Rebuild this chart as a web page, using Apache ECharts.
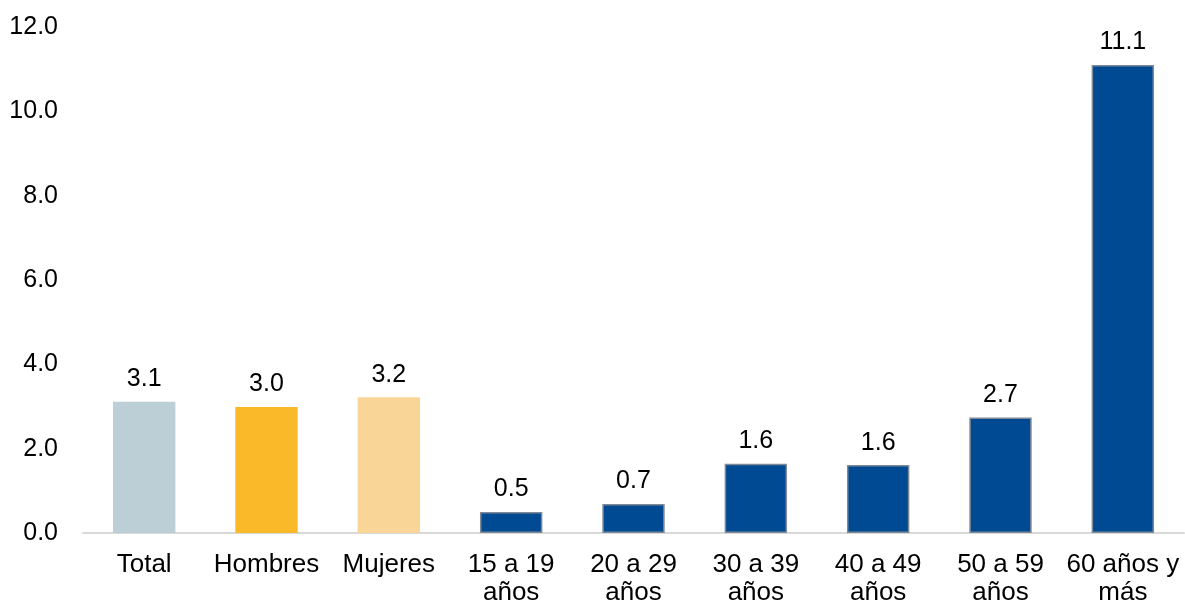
<!DOCTYPE html>
<html>
<head>
<meta charset="utf-8">
<script src="https://cdn.jsdelivr.net/npm/echarts@6/dist/echarts.min.js"></script>
<style>html,body{margin:0;padding:0;background:#fff}#c{width:1185px;height:605px}</style>
</head>
<body>
<div id="c"></div>
<script>
const categories = ['Total', 'Hombres', 'Mujeres', '15 a 19\naños', '20 a 29\naños', '30 a 39\naños', '40 a 49\naños', '50 a 59\naños', '60 años y\nmás'];
const values = [3.11, 2.99, 3.22, 0.50, 0.69, 1.64, 1.61, 2.74, 11.1];
const barColors = ['#bccfd6', '#f9b928', '#f9d597', '#004a94', '#004a94', '#004a94', '#004a94', '#004a94', '#004a94'];
const yTicks = [0, 2, 4, 6, 8, 10, 12];

const chart = echarts.init(document.getElementById('c'), null, {renderer: 'canvas'});
const font = 'Liberation Sans, Arial, sans-serif';
chart.setOption({
  animation: false,
  grid: {left: 83, right: 1, top: 27, bottom: 72, containLabel: false, outerBoundsMode: 'none'},
  xAxis: {
    type: 'category',
    data: categories,
    axisLine: {lineStyle: {color: '#d9d9d9', width: 2}},
    axisTick: {show: false},
    axisLabel: {color: '#000', fontFamily: font, fontSize: 26, lineHeight: 28, margin: 18, interval: 0}
  },
  yAxis: {
    type: 'value',
    min: yTicks[0], max: yTicks[yTicks.length - 1], interval: 2,
    splitLine: {show: false},
    axisLine: {show: false},
    axisTick: {show: false},
    axisLabel: {color: '#000', fontFamily: font, fontSize: 25, margin: 25, formatter: v => v.toFixed(1)}
  },
  series: [{
    type: 'bar',
    barWidth: '51%',
    data: values.map((v, i) => ({
      value: v,
      itemStyle: {
        color: barColors[i],
        borderColor: i >= 3 ? '#7f8a96' : 'rgba(0,0,0,0)',
        borderWidth: i >= 3 ? 1.5 : 0
      }
    })),
    label: {show: true, position: 'top', distance: 10, color: '#000', fontFamily: font, fontSize: 25, formatter: p => p.value.toFixed(1)}
  }]
});
</script>
</body>
</html>
